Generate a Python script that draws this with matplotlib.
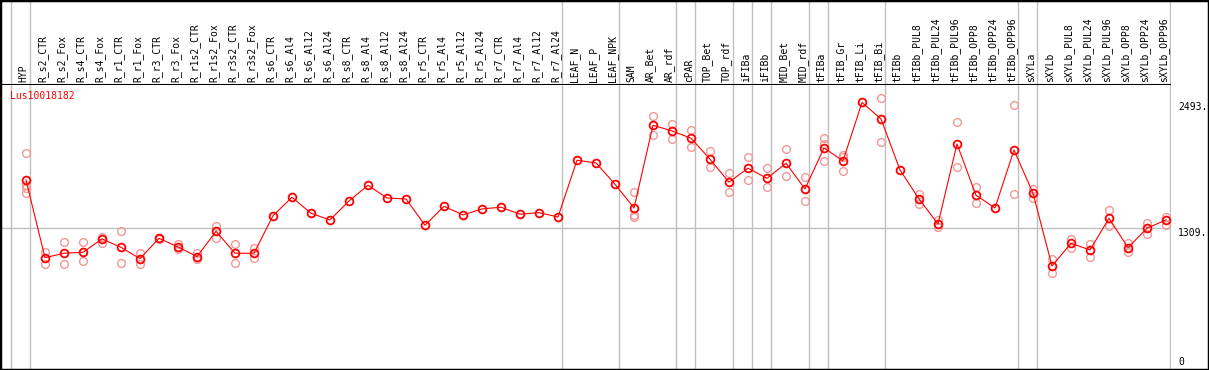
import numpy as np
import matplotlib
matplotlib.use("Agg")
import matplotlib.pyplot as plt
import matplotlib.transforms as mtransforms
from matplotlib.patches import Rectangle

# Категорії (зразки)
categories = [
    "HYP", "R_s2_CTR", "R_s2_Fox", "R_s4_CTR", "R_s4_Fox", "R_r1_CTR", "R_r1_Fox",
    "R_r3_CTR", "R_r3_Fox", "R_r1s2_CTR", "R_r1s2_Fox", "R_r3s2_CTR", "R_r3s2_Fox",
    "R_s6_CTR", "R_s6_Al4", "R_s6_Al12", "R_s6_Al24", "R_s8_CTR", "R_s8_Al4",
    "R_s8_Al12", "R_s8_Al24", "R_r5_CTR", "R_r5_Al4", "R_r5_Al12", "R_r5_Al24",
    "R_r7_CTR", "R_r7_Al4", "R_r7_Al12", "R_r7_Al24", "LEAF_N", "LEAF_P", "LEAF_NPK",
    "SAM", "AR_Bet", "AR_rdf", "cPAR", "TOP_Bet", "TOP_rdf", "iFIBa", "iFIBb",
    "MID_Bet", "MID_rdf", "tFIBa", "tFIB_Gr", "tFIB_Li", "tFIB_Bi", "tFIBb",
    "tFIBb_PUL8", "tFIBb_PUL24", "tFIBb_PUL96", "tFIBb_OPP8", "tFIBb_OPP24",
    "tFIBb_OPP96", "sXYLa", "sXYLb", "sXYLb_PUL8", "sXYLb_PUL24", "sXYLb_PUL96",
    "sXYLb_OPP8", "sXYLb_OPP24", "sXYLb_OPP96",
]

# Середні значення експресії
means = [
    1762, 1029, 1071, 1080, 1206, 1127, 1020, 1212, 1130, 1039, 1278, 1071, 1071,
    1425, 1599, 1448, 1385, 1564, 1712, 1592, 1583, 1335, 1514, 1432, 1489,
    1505, 1439, 1454, 1413, 1948, 1923, 1722,
    1498, 2278, 2225, 2156, 1958, 1741, 1873, 1778, 1920, 1677,
    2064, 1942, 2493, 2338, 1857, 1583, 1347, 2102, 1618, 1498, 2045,
    1637, 951, 1165, 1102, 1401, 1124, 1307, 1385,
]

# Окремі повтори
replicates = [
    [2017, 1715, 1684, 1637], [1086, 967], [1175, 970], [1175, 995], [1227, 1171],
    [1281, 976], [1071, 967], [1218, 1206], [1158, 1108], [1071, 1014], [1328, 1218],
    [1158, 982], [1118, 1029],
    [], [], [], [], [], [], [], [], [], [], [], [], [], [], [], [], [], [], [],
    [1649, 1432, 1416], [2366, 2184], [2291, 2152], [2234, 2074], [2036, 1882],
    [1825, 1646], [1976, 1762], [1873, 1693], [2052, 1800], [1788, 1564],
    [2156, 2097, 1939], [2001, 1978, 1847], [], [2533, 2118], [], [1630, 1536],
    [1385, 1316], [2307, 1882], [1693, 1542], [], [2470, 1630],
    [1680, 1590], [1017, 882], [1206, 1124], [1158, 1033], [1479, 1328],
    [1165, 1083], [1359, 1250], [1416, 1338],
]

# Останні індекси груп (сірі роздільники)
group_ends = [-1, 0, 28, 31, 34, 35, 37, 38, 39, 41, 42, 45, 52, 53, 60]

ref_ticks = [2493, 1309, 0]
ref_labels = ["2493.", "1309.", "0"]

W, H = 1209, 370
fig = plt.figure(figsize=(W / 100, H / 100), dpi=100)

x = np.arange(len(categories))
xlim = (-26 / 19, (1171 - 26) / 19)
grey = "#c0c0c0"
mono = "DejaVu Sans Mono"

ax = fig.add_axes([0, 1 / H, 1171 / W, 284 / H])
top = fig.add_axes([0, 285 / H, 1171 / W, 85 / H])

for a in (ax, top):
    a.set_xlim(*xlim)
    a.set_xticks([])
    a.set_yticks([])
    for s in a.spines.values():
        s.set_visible(False)
    for g in group_ends:
        a.axvline(g + 0.21, color=grey, lw=1, zorder=0)

ax.set_ylim(-21, 2658)
ax.axhline(1309, color=grey, lw=1, zorder=0)

# Повтори
for i, reps in enumerate(replicates):
    if reps:
        ax.plot([i] * len(reps), reps, "o", ms=5.6, mfc="none", mec="#f09898",
                mew=1.0, zorder=2, clip_on=False)

# Середні
ax.plot(x, means, "-", color="red", lw=0.8, zorder=3)
ax.plot(x, means, "o", ms=5.6, mfc="none", mec="red", mew=1.3, zorder=4)

ax.text(10 / 1171, 1 - 6 / 284, "Lus10018182", color="red", family=mono,
        fontsize=7, transform=ax.transAxes, ha="left", va="top")

trans = mtransforms.blended_transform_factory(ax.transAxes, ax.transData)
for v, lab in zip(ref_ticks, ref_labels):
    ax.text(1178 / 1171, v, lab, family=mono, fontsize=7, transform=trans,
            ha="left", va="bottom" if v == 0 else "top", clip_on=False)

ttrans = mtransforms.blended_transform_factory(top.transData, top.transAxes)
for i, name in enumerate(categories):
    top.text(i - 0.12, 3 / 85, name, rotation=90, family=mono, fontsize=7,
             transform=ttrans, ha="center", va="bottom")

top.axhline(0, color="black", lw=1.5)

fig.patches.append(Rectangle((0, 0), 1, 1, transform=fig.transFigure,
                             fill=False, edgecolor="black", lw=2.5))

fig.savefig("out.png", dpi=100)
